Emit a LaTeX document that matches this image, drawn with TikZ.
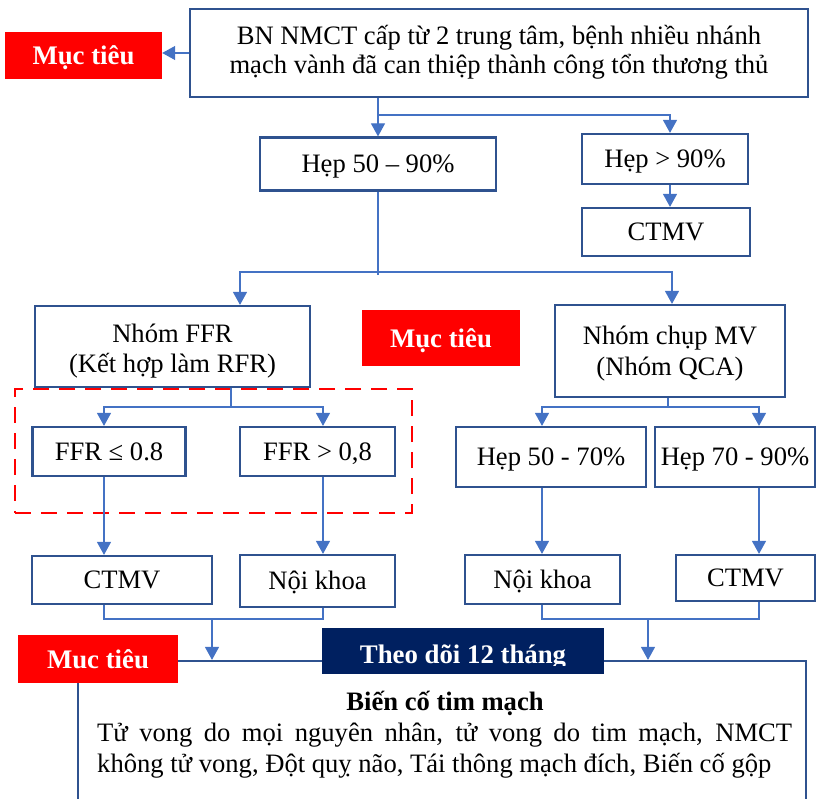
\documentclass[tikz,border=0pt]{standalone}
\usepackage{fontspec}
\setmainfont{Liberation Serif}
\usetikzlibrary{arrows.meta,calc}
\definecolor{bord}{HTML}{2F528F}
\definecolor{lnc}{HTML}{4472C4}
\definecolor{navyc}{HTML}{002060}
\definecolor{mtred}{HTML}{FF0000}
\newcommand\hs[1][0pt]{\rule{0pt}{\dimexpr0.891em+#1\relax}}
\newcommand\ds[1][0pt]{\rule[-\dimexpr0.216em+#1\relax]{0pt}{\dimexpr0.216em+#1\relax}}
\begin{document}
\begin{tikzpicture}[x=1pt,y=-1pt,
  txt/.style={font=\fontsize{26.6}{30}\selectfont},
  box/.style={txt, draw=bord, line width=2.2pt, fill=white, inner sep=0pt, align=center},
  redbox/.style={fill=mtred, text=white, inner sep=0pt, font=\fontsize{26.8}{30}\selectfont\bfseries},
  ln/.style={draw=lnc, line width=1.2pt},
  arr/.style={ln, -{Triangle[length=13pt,width=14pt]}},
]
\useasboundingbox (0,0) rectangle (816,799);
\clip (0,0) rectangle (816,799);
% columns and rows
\coordinate (cH) at (670,0);
\coordinate (cF) at (240,0);
\coordinate (cQ) at (672,0);
\coordinate (cF2) at (231,0);
\coordinate (cQ2) at (668,0);
\coordinate (cA) at (104,0);
\coordinate (cB) at (323,0);
\coordinate (cC) at (542,0);
\coordinate (cD) at (759,0);
\coordinate (cM1) at (212,0);
\coordinate (cM2) at (648,0);
\coordinate (r1) at (0,115);
\coordinate (r2) at (0,272);
\coordinate (r3) at (0,407);
\coordinate (r4) at (0,619);

% nodes
\node[box, font=\fontsize{26.6}{28.5}\selectfont, minimum width=618pt, minimum height=88pt] (top) at (499,53)
  {\hs BN NMCT cấp từ 2 trung tâm, bệnh nhiều nhánh\\mạch vành đã can thiệp thành công tổn thương thủ\ds[5.5pt]};
\node[redbox, minimum width=157pt, minimum height=47pt] (mt1) at (83.5,55.5) {\hs Mục tiêu\ds};
\node[box, minimum width=236pt, minimum height=53pt] (h5090) at (378,164) {\hs Hẹp 50 – 90\%\ds};
\node[box, minimum width=166pt, minimum height=50pt] (h90) at (665,159) {\hs Hẹp > 90\%\ds};
\node[box, minimum width=168pt, minimum height=48pt] (ctmv0) at (666,232) {\hs CTMV\ds};
\node[box, minimum width=275pt, minimum height=81pt] (ffr) at (172.5,346.5) {\hs[5pt]Nhóm FFR\\(Kết hợp làm RFR)\ds};
\node[redbox, minimum width=158pt, minimum height=56pt] (mt2) at (441,338) {\hs Mục tiêu\ds};
\node[box, font=\fontsize{26.6}{31}\selectfont, minimum width=230pt, minimum height=92pt] (qca) at (670,351) {\hs Nhóm chụp MV\\(Nhóm QCA)\ds};
\node[draw=mtred, line width=2.5pt, dash pattern=on 16pt off 10pt, minimum width=397pt, minimum height=124pt, inner sep=0pt] (dbox) at (213.5,451) {};
\node[box, minimum width=153pt, minimum height=49pt] (ffrle) at (109,451.5) {\hs FFR ≤ 0.8\ds};
\node[box, minimum width=155pt, minimum height=49pt] (ffrgt) at (317.5,451.5) {\hs FFR > 0,8\ds};
\node[box, minimum width=190pt, minimum height=60pt] (h5070) at (551,457) {\hs Hẹp 50 - 70\%\ds};
\node[box, minimum width=160pt, minimum height=60pt] (h7090) at (735,457) {\hs Hẹp 70 - 90\%\ds};
\node[box, minimum width=180pt, minimum height=48pt] (ctmv1) at (122,580) {\hs CTMV\ds};
\node[box, minimum width=155pt, minimum height=52pt] (nk1) at (317.5,581) {\hs Nội khoa\ds};
\node[box, minimum width=155pt, minimum height=49pt] (nk2) at (542.5,579.5) {\hs Nội khoa\ds};
\node[box, minimum width=139pt, minimum height=46pt] (ctmv2) at (745.5,578) {\hs CTMV\ds};
\node[draw=bord, line width=2.2pt, fill=white, minimum width=728pt, minimum height=180pt, inner sep=0pt] (outc) at (442,751) {};
\node[redbox, minimum width=160pt, minimum height=48pt] (mt3) at (98,659) {\hs Muc tiêu\ds};
\node[fill=navyc, minimum width=282pt, minimum height=46pt, inner sep=0pt] (theo) at (463,651) {};
\begin{scope}
  \clip (theo.north west) rectangle ($(theo.east)+(0,14)$);
  \node[anchor=base, inner sep=0pt, text=white, font=\fontsize{26.8}{30}\selectfont\bfseries] (theot) at ($(theo.center)+(0,12)$) {Theo dõi 12 tháng};
\end{scope}
\node[txt, anchor=base, font=\fontsize{26.6}{30}\selectfont\bfseries, inner sep=0pt] (ttl) at (445,710) {Biến cố tim mạch};
\node[txt, anchor=base west, inner sep=0pt] (l1) at (97,741)
  {\makebox[695pt][s]{Tử vong do mọi nguyên nhân, tử vong do tim mạch, NMCT}};
\node[txt, anchor=base west, inner sep=0pt] (l2) at (97,772)
  {không tử vong, Đột quỵ não, Tái thông mạch đích, Biến cố gộp};

% connectors
\draw[arr] (top.west) -- (mt1.east |- top.west);
\draw[ln] (top.south -| h5090.north) -- (h5090.north |- r1);
\draw[arr] (h5090.north |- r1) -- (h5090.north);
\draw[arr] (h5090.north |- r1) -| (h90.north -| cH);
\draw[arr] (h90.south -| cH) -- (ctmv0.north -| cH);
\draw[ln] (h5090.south) -- ($(h5090.south |- r2)+(0,3)$);
\draw[arr] (h5090.south |- r2) -| (ffr.north -| cF);
\draw[arr] (h5090.south |- r2) -| (qca.north -| cQ);
\draw[ln] (ffr.south -| cF2) -- (cF2 |- r3);
\draw[arr] (cF2 |- r3) -| (ffrle.north -| cA);
\draw[arr] (cF2 |- r3) -| (ffrgt.north -| cB);
\draw[ln] (qca.south -| cQ2) -- (cQ2 |- r3);
\draw[arr] (cQ2 |- r3) -| (h5070.north -| cC);
\draw[arr] (cQ2 |- r3) -| (h7090.north -| cD);
\draw[arr] (ffrle.south -| cA) -- (ctmv1.north -| cA);
\draw[arr] (ffrgt.south -| cB) -- (nk1.north -| cB);
\draw[arr] (h5070.south -| cC) -- (nk2.north -| cC);
\draw[arr] (h7090.south -| cD) -- (ctmv2.north -| cD);
\draw[ln] (ctmv1.south -| cA) |- (cB |- r4) -- (nk1.south -| cB);
\draw[ln] (nk2.south -| cC) |- (cD |- r4) -- (ctmv2.south -| cD);
\draw[arr] (cM1 |- r4) -- (outc.north -| cM1);
\draw[arr] (cM2 |- r4) -- (outc.north -| cM2);
\end{tikzpicture}
\end{document}
